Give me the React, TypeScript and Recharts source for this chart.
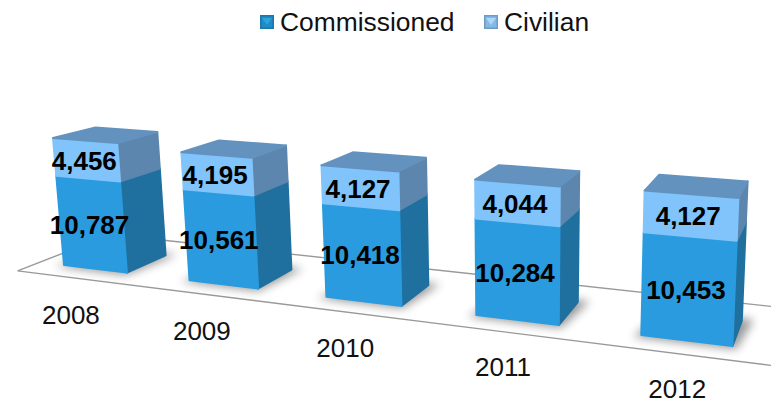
import { BarChart, Bar, XAxis, YAxis, Legend, LabelList } from "recharts";

const years = ["2008", "2009", "2010", "2011", "2012"];
const commissioned = [10787, 10561, 10418, 10284, 10453];
const civilian = [4456, 4195, 4127, 4044, 4127];

const rows = years.map((year, i) => ({
  year,
  Commissioned: commissioned[i],
  Civilian: civilian[i],
}));

const WIDTH = 771;
const HEIGHT = 403;
const LEGEND_H = 30;
const AXIS_H = 1;
const MAX_VALUE = 20000;
const BAND = WIDTH / years.length;
const GAP = 0.245; // each side of a bar

const PLOT_H = HEIGHT - LEGEND_H - AXIS_H;
const BASE = HEIGHT - AXIS_H;
const valueY = (v: number) => BASE - (PLOT_H * v) / MAX_VALUE;
const firstLeft = BAND * GAP;
const lastRight = WIDTH - BAND * GAP;

// perspective: plot coordinates -> picture
function solve(m: number[][]) {
  const n = m.length;
  for (let i = 0; i < n; i++) {
    let p = i;
    for (let r = i + 1; r < n; r++) if (Math.abs(m[r][i]) > Math.abs(m[p][i])) p = r;
    [m[i], m[p]] = [m[p], m[i]];
    for (let r = 0; r < n; r++) {
      if (r === i) continue;
      const k = m[r][i] / m[i][i];
      for (let c = i; c <= n; c++) m[r][c] -= k * m[i][c];
    }
  }
  return m.map((row, i) => row[n] / row[i]);
}

const anchors = [
  [firstLeft, BASE, 64, 265],
  [lastRight, BASE, 732, 346],
  [firstLeft, valueY(15243), 53, 138],
  [lastRight, valueY(14580), 738, 198],
];
const H = solve(
  anchors.flatMap(([u, v, X, Y]) => [
    [u, v, 1, 0, 0, 0, -u * X, -v * X, X],
    [0, 0, 0, u, v, 1, -u * Y, -v * Y, Y],
  ])
);
const VANISH = [886, -68];
const scaleAt = (u: number, v: number) => H[6] * u + H[7] * v + 1;
const DEPTH = 0.055 * scaleAt(firstLeft + BAND * (1 - 2 * GAP), valueY(15243));

const project = (u: number, v: number, d = 0) => {
  const w = scaleAt(u, v) + d;
  return [
    (H[0] * u + H[1] * v + H[2] + d * VANISH[0]) / w,
    (H[3] * u + H[4] * v + H[5] + d * VANISH[1]) / w,
  ];
};
const poly = (pts: number[][]) => pts.map((p) => `${p[0].toFixed(1)},${p[1].toFixed(1)}`).join(" ");

const Face = ({ pts, fill }: { pts: number[][]; fill: string }) => (
  <polygon points={poly(pts)} fill={fill} stroke={fill} strokeWidth={2} strokeLinejoin="round" />
);

const makeBox = (front: string, side: string, top?: string) => (props: any) => {
  const { x, y, width, height } = props;
  const r = x + width;
  const b = y + height;
  return (
    <g>
      {!top && (
        <polygon
          points={poly([
            project(x - 6, b, -0.1 * DEPTH),
            project(r + 4, b, -0.1 * DEPTH),
            project(r + 10, b, 1.1 * DEPTH),
            project(x + 10, b, 1.1 * DEPTH),
          ])}
          fill="#000"
          opacity={0.4}
          filter="url(#floorShadow)"
        />
      )}
      <Face
        pts={[project(r, y), project(r, y, DEPTH), project(r, b, DEPTH), project(r, b)]}
        fill={side}
      />
      <Face pts={[project(x, y), project(r, y), project(r, b), project(x, b)]} fill={front} />
      {top && (
        <Face
          pts={[project(x, y), project(r, y), project(r, y, DEPTH), project(x, y, DEPTH)]}
          fill={top}
        />
      )}
    </g>
  );
};

const ValueLabel = (props: any) => {
  const { x, y, width, height, value } = props;
  const [px, py] = project(x + width / 2, y + height / 2);
  return (
    <text
      x={px - 2}
      y={py + 1}
      textAnchor="middle"
      dominantBaseline="central"
      fontFamily="Liberation Sans"
      fontWeight="bold"
      fontSize={26}
      fill="#000"
    >
      {Number(value).toLocaleString("en-US")}
    </text>
  );
};

const YearTick = (props: any) => {
  const { x, payload } = props;
  const [px, py] = project(x, BASE + 50, -0.6 * DEPTH);
  return (
    <text
      x={px}
      y={py + 13 - px * 0.012}
      textAnchor="middle"
      dominantBaseline="central"
      fontFamily="Liberation Sans"
      fontSize={26}
      fill="#111"
    >
      {payload.value}
    </text>
  );
};

const Floor = () => {
  const l = 7;
  const r = WIDTH + 160;
  const front = -0.5 * DEPTH;
  const back = 1.75 * DEPTH;
  return (
    <g fill="none" stroke="#999" strokeWidth={1.4}>
      <defs>
        <filter id="floorShadow" x="-40%" y="-80%" width="180%" height="260%">
          <feGaussianBlur stdDeviation="5" />
        </filter>
      </defs>
      <polyline
        points={poly([
          project(r, BASE, back),
          project(l, BASE, back),
          project(l, BASE, front),
          project(r, BASE, front),
        ])}
      />
    </g>
  );
};

const legendIcons: Record<string, string[]> = {
  Commissioned: ["#1c76a8", "#2fa4dc", "#1f8cc6"],
  Civilian: ["#6d9bc4", "#a9d8fb", "#86b8e4"],
};
const legendLeft: Record<string, number> = { Commissioned: 260, Civilian: 484 };

const ChartLegend = ({ payload }: any) => (
  <div style={{ height: LEGEND_H, position: "relative", fontFamily: "Liberation Sans", fontSize: 26.4, color: "#111" }}>
    {(payload || []).map((item: any) => {
      const c = legendIcons[item.value];
      return (
        <div key={item.value} style={{ position: "absolute", left: legendLeft[item.value], top: 7, display: "flex", alignItems: "center", lineHeight: "30px" }}>
          <svg width={14} height={14} style={{ marginRight: 6 }}>
            <rect width={14} height={14} fill={c[0]} />
            <rect x={1.5} y={1.5} width={11} height={11} fill={c[2]} />
            <polygon points="2,3 12,3 7,10" fill={c[1]} />
          </svg>
          {item.value}
        </div>
      );
    })}
  </div>
);

export default function App() {
  return (
    <div style={{ position: "absolute", left: 0, top: 0, width: WIDTH, height: HEIGHT, background: "#fff" }}>
      <BarChart
        width={WIDTH}
        height={HEIGHT}
        data={rows}
        margin={{ top: 0, right: 0, bottom: 0, left: 0 }}
        barCategoryGap={`${GAP * 100}%`}
      >
        <Legend verticalAlign="top" content={<ChartLegend />} />
        <XAxis dataKey="year" height={AXIS_H} axisLine={false} tickLine={false} interval={0} tick={<YearTick />} />
        <YAxis hide domain={[0, MAX_VALUE]} />
        <Floor />
        <Bar
          dataKey="Commissioned"
          stackId="a"
          fill="#2a9bde"
          isAnimationActive={false}
          shape={makeBox("#2a9bde", "#20709f")}
        >
          <LabelList dataKey="Commissioned" content={<ValueLabel />} />
        </Bar>
        <Bar
          dataKey="Civilian"
          stackId="a"
          fill="#80c4fb"
          isAnimationActive={false}
          shape={makeBox("#80c4fb", "#5c86ad", "#6492bf")}
        >
          <LabelList dataKey="Civilian" content={<ValueLabel />} />
        </Bar>
      </BarChart>
    </div>
  );
}
